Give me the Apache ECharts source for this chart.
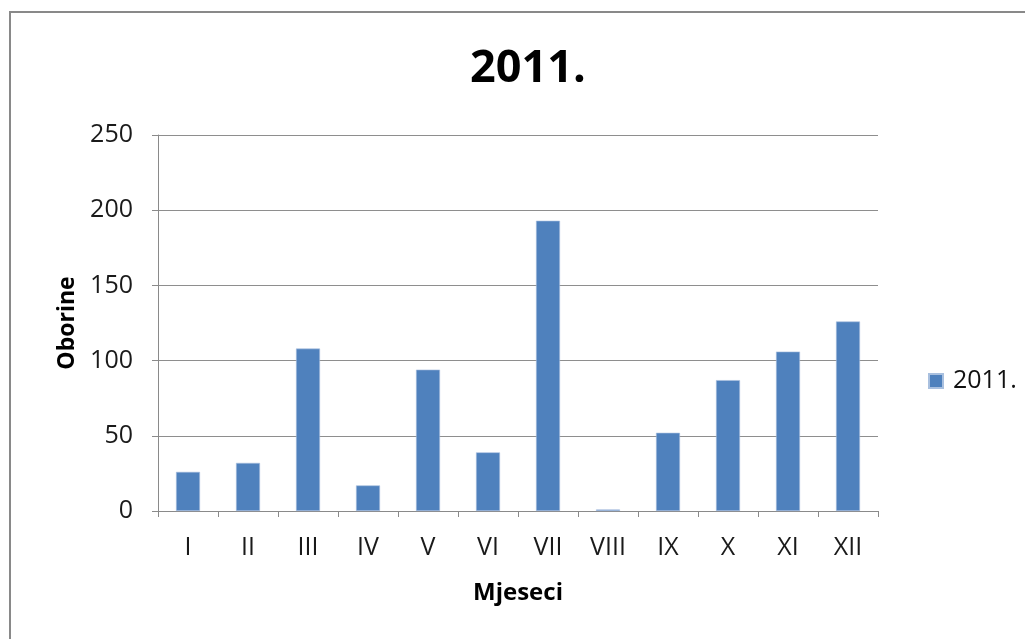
<!DOCTYPE html>
<html>
<head>
<meta charset="utf-8">
<script src="https://cdn.jsdelivr.net/npm/echarts@6/dist/echarts.min.js"></script>
<style>
html,body{margin:0;padding:0;width:1025px;height:639px;overflow:hidden;background:#fff;}
#frame{position:absolute;left:9px;top:11px;width:1100px;height:1000px;border:2px solid #898989;box-sizing:border-box;}
#chart{position:absolute;left:0;top:0;width:1025px;height:639px;}
</style>
</head>
<body>
<div id="frame"></div>
<div id="chart"></div>
<script>
const months = ['I','II','III','IV','V','VI','VII','VIII','IX','X','XI','XII'];
const oborine2011 = [26, 32, 108, 17, 94, 39, 193, 1, 52, 87, 106, 126];
const yTicks = {min: 0, max: 250, interval: 50};
const seriesName = '2011.';
const titleText = '2011.';
const xName = 'Mjeseci';
const yName = 'Oborine';

const FONT = 'Open Sans';
const axisGray = '#8a8a8a';
const chart = echarts.init(document.getElementById('chart'), null, {renderer: 'canvas'});
chart.setOption({
  backgroundColor: 'transparent',
  animation: false,
  title: {
    text: titleText,
    left: 523,
    textAlign: 'center',
    top: 42,
    textStyle: {fontFamily: FONT, fontSize: 45, fontWeight: 'bold', color: '#000'}
  },
  legend: {
    data: [seriesName],
    left: 923,
    top: 362,
    icon: 'rect',
    itemWidth: 14,
    itemHeight: 14,
    textStyle: {fontFamily: FONT, fontSize: 25, color: '#111', lineHeight: 28, padding: [0,0,0,5]}
  },
  grid: {left: 158, right: 147, top: 135, bottom: 128, containLabel: false},
  xAxis: {
    type: 'category',
    data: months,
    name: xName,
    nameLocation: 'middle',
    nameGap: 70,
    nameTextStyle: {fontFamily: FONT, fontSize: 24, fontWeight: 'bold', color: '#000'},
    axisLine: {show: true, lineStyle: {color: axisGray, width: 1}},
    axisTick: {show: true, length: 6, alignWithLabel: false, lineStyle: {color: axisGray}},
    axisLabel: {fontFamily: FONT, fontSize: 25, color: '#1a1a1a', margin: 24, interval: 0}
  },
  yAxis: {
    type: 'value',
    min: yTicks.min,
    max: yTicks.max,
    interval: yTicks.interval,
    name: yName,
    nameLocation: 'middle',
    nameGap: 79,
    nameTextStyle: {fontFamily: FONT, fontSize: 23, fontWeight: 'bold', color: '#000'},
    axisLine: {show: true, lineStyle: {color: axisGray, width: 1}},
    axisTick: {show: true, length: 6, inside: false, lineStyle: {color: axisGray}},
    axisLabel: {fontFamily: FONT, fontSize: 25, color: '#1a1a1a', margin: 25},
    splitLine: {show: true, lineStyle: {color: '#8e8e8e', width: 1}}
  },
  series: [{
    name: seriesName,
    type: 'bar',
    data: oborine2011,
    barWidth: '40%',
    itemStyle: {color: '#4F81BD', borderColor: '#a9c0df', borderWidth: 0.6}
  }]
});
</script>
</body>
</html>
